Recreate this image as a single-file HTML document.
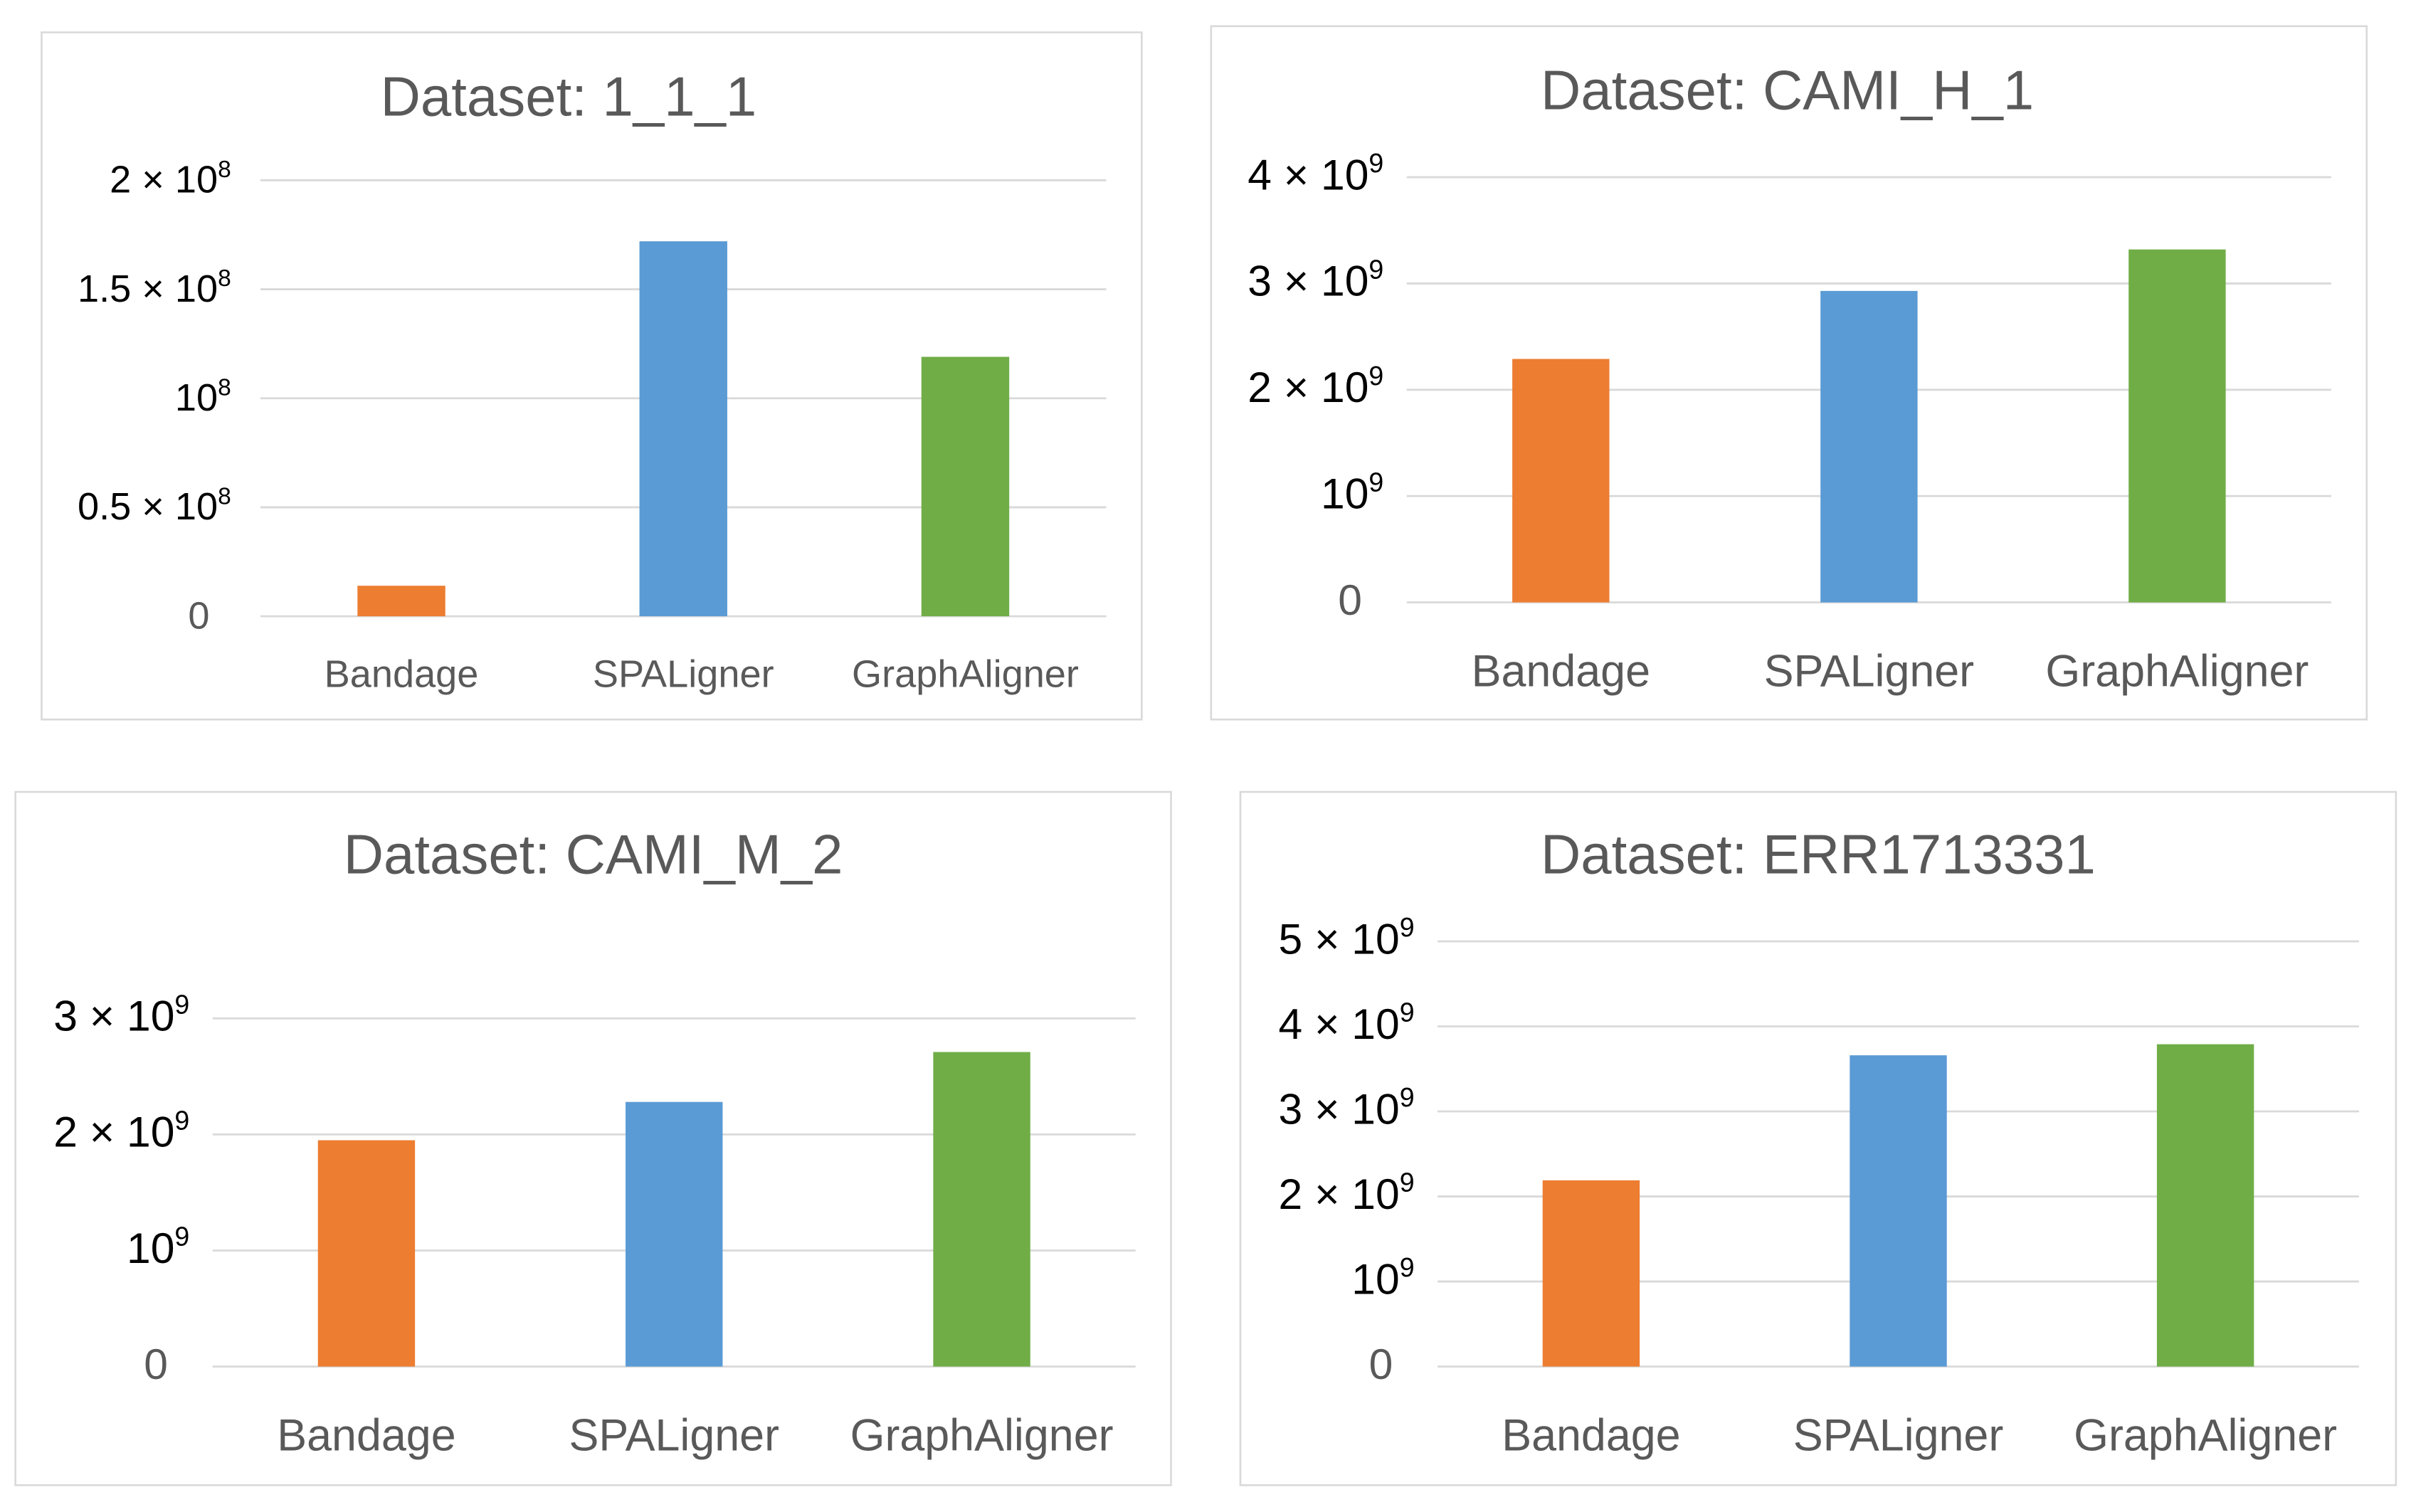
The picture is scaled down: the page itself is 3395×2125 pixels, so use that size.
<!DOCTYPE html>
<html><head><meta charset="utf-8"><style>
html,body{margin:0;padding:0;background:#fff;}
svg{display:block;font-family:"Liberation Sans","DejaVu Sans",sans-serif;}
</style></head><body>
<svg id="chart" width="3395" height="2125" viewBox="0 0 1568 981.4" preserveAspectRatio="none" xmlns="http://www.w3.org/2000/svg"></svg>
<script>
const categories = ["Bandage","SPALigner","GraphAligner"];
const titles = ["Dataset: 1_1_1","Dataset: CAMI_H_1","Dataset: CAMI_M_2","Dataset: ERR1713331"];
const values1 = [0.14e8, 1.72e8, 1.19e8];
const values2 = [2.29e9, 2.93e9, 3.32e9];
const values3 = [1.95e9, 2.28e9, 2.71e9];
const values4 = [2.19e9, 3.66e9, 3.79e9];
const ticks1 = [[0,"0"],[0.5e8,"0.5","8"],[1e8,"","8"],[1.5e8,"1.5","8"],[2e8,"2","8"]];
const ticks2 = [[0,"0"],[1e9,"","9"],[2e9,"2","9"],[3e9,"3","9"],[4e9,"4","9"]];
const ticks3 = [[0,"0"],[1e9,"","9"],[2e9,"2","9"],[3e9,"3","9"]];
const ticks4 = [[0,"0"],[1e9,"","9"],[2e9,"2","9"],[3e9,"3","9"],[4e9,"4","9"],[5e9,"5","9"]];
const colors = ["#ed7d31","#5b9bd5","#70ad47"];

const layouts = [
 {box:[27,21,714,446], title:[369,63,36], gx:[169,718], y0:400, yTop:117, vmax:2e8, bw:57, xl:437, xf:25, tf:25, tx:150},
 {box:[786,17,750,450], title:[1160,59,36], gx:[913,1513], y0:391, yTop:115, vmax:4e9, bw:63, xl:435, xf:29, tf:28, tx:898},
 {box:[10,514,750,450], title:[385,555,36], gx:[138,737], y0:887, yTop:661, vmax:3e9, bw:63, xl:931, xf:29, tf:28, tx:123},
 {box:[805,514,750,450], title:[1180,555,36], gx:[933,1531], y0:887, yTop:611, vmax:5e9, bw:63, xl:931, xf:29, tf:28, tx:918}
];
const allValues = [values1, values2, values3, values4];
const allTicks = [ticks1, ticks2, ticks3, ticks4];
const NS = "http://www.w3.org/2000/svg";
const svg = document.getElementById("chart");
function mk(tag, attrs, parent){const e=document.createElementNS(NS,tag);for(const k in attrs)e.setAttribute(k,attrs[k]);parent.appendChild(e);return e;}

layouts.forEach((L, pi) => {
  const g = mk("g", {}, svg);
  
  
  const b = mk("rect", {x:L.box[0], y:L.box[1], width:L.box[2], height:L.box[3], fill:"#fff", stroke:"#d9d9d9", "stroke-width":1.2}, g);
  
  
  const t = mk("text", {x:L.title[0], y:L.title[1]+12, "text-anchor":"middle", "font-size":L.title[2], fill:"#595959"}, g);
  t.textContent = titles[pi];
  
  
  const yScale = v => L.y0 - (v / L.vmax) * (L.y0 - L.yTop);
  allTicks[pi].forEach(tk => {
    const y = yScale(tk[0]);
    const ln = mk("line", {x1:L.gx[0], x2:L.gx[1], y1:y, y2:y, stroke:"#d9d9d9", "stroke-width":1.3}, g);
    
    
    const tx = mk("text", {x:L.tx, y:y+8, "text-anchor":"end", "font-size":L.tf, fill: tk[0]===0 ? "#595959" : "#000"}, g);
    
    
    if (tk[0] === 0) { tx.textContent = "0"; tx.setAttribute("x", L.tx - 14); }
    else {
      const mant = tk[1] ? tk[1] + " × " : "";
      const s1 = mk("tspan", {}, tx); s1.textContent = mant + "10";
      const s2 = mk("tspan", {dy:-L.tf*0.4, "font-size":L.tf*0.62}, tx); s2.textContent = tk[2];
    }
  });
  const n = categories.length, span = (L.gx[1]-L.gx[0]) / n;
  categories.forEach((c, i) => {
    const cx = L.gx[0] + span*(i+0.5);
    const v = allValues[pi][i];
    const r = mk("rect", {x:cx-L.bw/2, y:yScale(v), width:L.bw, height:L.y0-yScale(v), fill:colors[i]}, g);
    
    
    const xl = mk("text", {x:cx, y:L.xl+L.xf*0.36, "text-anchor":"middle", "font-size":L.xf, fill:"#595959"}, g);
    xl.textContent = c;
    
    
  });
});
</script>
</body></html>
